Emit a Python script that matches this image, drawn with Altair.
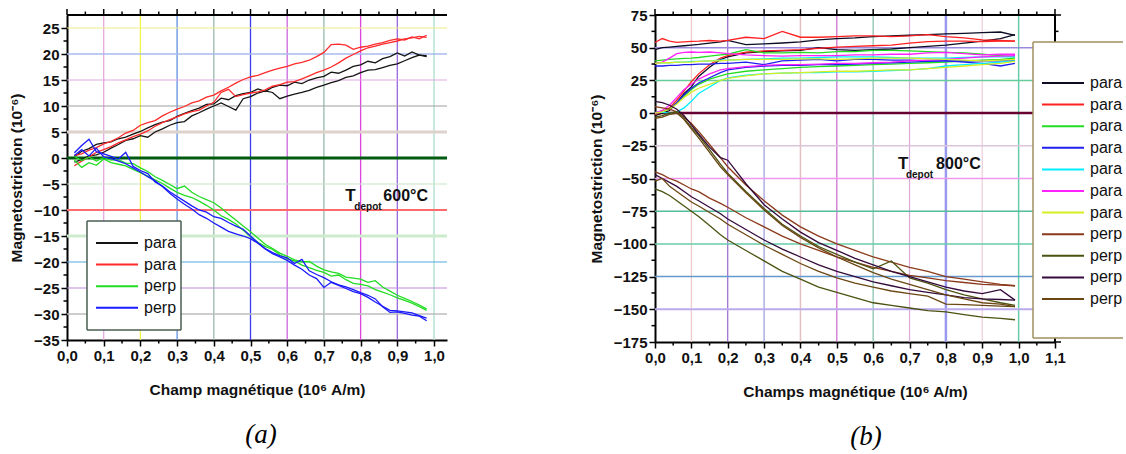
import altair as alt
import pandas as pd

FONT = "Liberation Sans"

# ---------------- Panel (a) : T_depot 600 C ----------------
LX = [0.02, 0.04, 0.06, 0.08, 0.10, 0.12, 0.14, 0.16, 0.18, 0.20,
      0.22, 0.24, 0.26, 0.28, 0.30, 0.32, 0.34, 0.36, 0.38, 0.40,
      0.42, 0.44, 0.46, 0.48, 0.50, 0.52, 0.54, 0.56, 0.58, 0.60,
      0.62, 0.64, 0.66, 0.68, 0.70, 0.72, 0.74, 0.76, 0.78, 0.80,
      0.82, 0.84, 0.86, 0.88, 0.90, 0.92, 0.94, 0.96, 0.98]

A_BLACK_1 = [0.2, 1.3, 1.8, 2.6, 2.9, 3.1, 3.7, 4.0, 4.6, 5.1,
             5.8, 6.4, 6.9, 7.2, 8.0, 8.6, 9.1, 9.6, 10.3, 10.4,
             11.5, 11.2, 12.0, 12.4, 12.6, 13.3, 12.8, 13.6, 14.0, 13.9,
             14.6, 14.3, 15.0, 15.4, 15.7, 16.5, 16.3, 16.9, 17.6, 17.9,
             18.6, 18.3, 19.1, 19.5, 20.2, 19.6, 20.4, 19.8, 19.7]
A_BLACK_2 = [-0.8, -0.3, 0.4, 0.6, 1.1, 1.9, 2.6, 3.4, 3.7, 4.3,
             4.0, 5.0, 5.6, 6.3, 6.8, 7.0, 8.1, 8.7, 9.4, 10.0,
             10.6, 9.9, 9.2, 11.4, 11.8, 12.5, 12.9, 12.6, 11.4, 11.9,
             12.3, 12.6, 13.0, 13.6, 14.0, 14.5, 14.9, 15.5, 15.8, 16.4,
             16.9, 17.0, 17.4, 17.8, 18.1, 18.7, 19.3, 19.8, 19.5]
A_RED_1 = [0.5, 0.8, 1.5, 2.0, 2.7, 3.2, 3.9, 4.8, 5.3, 6.3,
           6.8, 7.2, 8.1, 8.8, 9.4, 9.9, 10.6, 11.0, 11.7, 12.1,
           12.9, 13.6, 14.4, 15.1, 15.6, 15.9, 16.4, 16.9, 17.3, 17.6,
           18.1, 18.4, 18.8, 19.5, 20.3, 21.8, 21.9, 21.7, 20.9, 21.3,
           21.5, 21.9, 22.2, 22.6, 22.9, 22.7, 23.3, 22.9, 23.6]
A_RED_2 = [-1.5, -0.6, 0.2, 1.1, 1.6, 2.2, 2.9, 3.5, 4.1, 4.6,
           5.2, 6.1, 6.8, 7.4, 7.9, 8.5, 8.9, 9.2, 10.0, 10.7,
           12.6, 13.2, 11.8, 12.2, 12.5, 12.7, 13.1, 13.8, 14.1, 14.6,
           14.7, 15.2, 15.8, 16.4, 16.9, 17.5, 18.3, 19.2, 19.9, 20.6,
           21.2, 21.5, 21.9, 22.2, 22.5, 22.9, 23.1, 23.4, 23.2]
A_GREEN_1 = [0.3, -0.5, 0.2, -0.6, 0.1, -0.4, -0.3, -1.0, -1.1, -1.9,
             -2.6, -3.6, -4.3, -5.1, -5.9, -5.4, -6.6, -7.4, -8.0, -8.6,
             -9.6, -10.8, -11.9, -13.1, -14.2, -15.4, -16.6, -17.4, -18.3, -18.9,
             -19.6, -20.0, -19.9, -20.8, -21.5, -21.9, -22.2, -22.9, -23.1, -23.3,
             -23.9, -23.6, -24.8, -25.6, -26.4, -27.0, -27.6, -28.3, -29.0]
A_GREEN_2 = [-0.4, -1.8, -0.9, -1.4, -0.2, -0.9, -1.2, -1.5, -2.2, -2.8,
             -3.5, -4.2, -4.9, -5.8, -6.6, -7.2, -7.6, -8.3, -9.1, -10.0,
             -11.1, -11.8, -12.7, -13.9, -15.1, -16.2, -17.0, -17.6, -18.6, -19.4,
             -19.8, -20.6, -21.1, -21.6, -22.0, -22.7, -22.5, -23.4, -24.1, -24.3,
             -24.6, -25.3, -25.8, -26.3, -26.9, -27.4, -27.9, -28.6, -29.3]
A_BLUE_1 = [1.0, 2.4, 3.6, 1.2, 0.8, 0.3, -0.2, 1.1, -1.6, -2.4,
            -3.0, -4.6, -5.4, -6.5, -7.4, -8.3, -9.2, -10.0, -10.4, -11.3,
            -11.6, -12.4, -13.1, -13.7, -15.0, -16.3, -17.4, -18.2, -18.8, -19.2,
            -20.3, -19.5, -21.7, -22.4, -23.0, -23.8, -24.4, -24.8, -25.3, -25.9,
            -26.4, -27.1, -28.6, -29.7, -29.6, -29.9, -30.2, -30.4, -31.3]
A_BLUE_2 = [0.5, 1.6, 0.4, 1.9, 0.2, -0.1, -0.6, -1.1, -1.9, -2.7,
            -3.6, -4.4, -5.5, -6.8, -7.9, -8.9, -9.8, -10.9, -11.6, -12.5,
            -13.3, -14.1, -14.6, -15.0, -15.5, -16.4, -17.5, -18.4, -19.0, -19.7,
            -20.6, -21.4, -22.5, -23.2, -24.9, -23.9, -24.5, -25.1, -25.7, -26.1,
            -26.8, -27.7, -28.5, -29.3, -29.4, -29.6, -29.8, -30.3, -30.8]

A_SERIES = ["para_1", "para_2", "perp_1", "perp_2"]
A_COLORS = ["#141414", "#ff2a2a", "#22dd22", "#1a1aff"]

# grid of panel (a)
A_VGRID = [0.1, 0.2, 0.3, 0.4, 0.5, 0.6, 0.7, 0.8, 0.9, 1.0]
A_VGRID_COL = ["#e8a8e0", "#f2f24a", "#6090e0", "#99bbaa", "#3a3aee",
               "#cc66dd", "#99bbaa", "#dd44dd", "#9966dd", "#aaddcc"]
A_HGRID = [25, 20, 15, 10, 5, 0, -5, -10, -15, -20, -25, -30]
A_HGRID_COL = ["#eeee88", "#aabbee", "#ddaadd", "#a0a0a0", "#ddd2cc", "#005a10",
               "#cce2cc", "#ff6a6a", "#cdeccd", "#55aadd", "#bb88dd", "#bdbdbd"]
A_HGRID_W = [1.2, 1.5, 1.2, 1.2, 3, 3, 1.2, 2, 3, 1.2, 1.2, 1.5]

A_XMAJOR = [0.0, 0.1, 0.2, 0.3, 0.4, 0.5, 0.6, 0.7, 0.8, 0.9, 1.0]
A_XMINOR = [0.05, 0.15, 0.25, 0.35, 0.45, 0.55, 0.65, 0.75, 0.85, 0.95]
A_YMAJOR = [-35, -30, -25, -20, -15, -10, -5, 0, 5, 10, 15, 20, 25]
A_YMINOR = [-32.5, -27.5, -22.5, -17.5, -12.5, -7.5, -2.5, 2.5, 7.5, 12.5, 17.5, 22.5]

# ---------------- Panel (b) : T_depot 800 C ----------------
RX = [0.00, 0.02, 0.04, 0.06, 0.08, 0.10, 0.12, 0.15, 0.18, 0.20,
      0.25, 0.30, 0.35, 0.40, 0.45, 0.50, 0.55, 0.60, 0.65, 0.70,
      0.75, 0.80, 0.85, 0.90, 0.95, 0.99]

B_BLACK_R = [48.5, 50, 50.5, 51, 51.5, 52, 52.5, 53.5, 54.5, 55.6, 52.3, 53, 53.6, 54.5, 56, 57, 57.5, 58.5, 59, 59.5, 60, 60.5, 61, 61.5, 62, 59.5]
B_BLACK_U = [-2, 0, 2, 8, 15, 20, 28, 35, 41, 43, 46, 47, 47.5, 48, 50, 48.5, 48, 48.5, 49, 50, 51, 52, 53.5, 55, 57, 60]
B_RED_R = [54, 57, 55, 54, 54.5, 54.8, 55, 55.5, 55, 55.6, 58, 57, 62.5, 58, 58, 58.5, 59, 59, 58.5, 59, 60, 58.5, 57.5, 56, 55.5, 55]
B_RED_U = [-1, 1, 4, 10, 17, 24, 30, 37, 42, 44, 46.6, 47.5, 48, 48.5, 49.5, 50.5, 51, 51.5, 52, 53.5, 54.6, 55, 55, 54.6, 55, 55]
B_GREEN_R = [40, 40.5, 41, 41.5, 41.8, 42, 42.5, 43.5, 44.5, 45, 48.5, 46, 46, 46.5, 46, 47, 47, 48, 48, 47.5, 47, 46.5, 46, 45, 44, 43]
B_GREEN_U = [0, 1, 3, 8, 13, 18, 22, 26, 28.5, 30, 32, 33, 34, 35, 35.5, 36, 36.5, 37, 37.5, 38, 38.5, 39, 40, 40.5, 41, 42]
B_BLUE_R = [36, 36, 36.5, 36.5, 37, 37, 37.5, 37.5, 38, 38, 39, 37, 40, 40.5, 41, 40, 41, 41, 40.5, 40.5, 40, 40, 39, 38, 36, 38]
B_BLUE_U = [0, 1, 3, 8, 14, 19, 23, 27, 31, 33, 35, 36, 36.5, 36.5, 37, 37, 37.5, 38, 38.5, 39, 39.5, 40, 40, 40, 40, 40]
B_CYAN_R = [38, 38.5, 38.5, 39, 39, 39.5, 39.5, 40, 40.5, 40.5, 41, 41.5, 42, 42, 42.5, 43, 43, 43, 42.5, 42, 42, 42, 42.5, 43, 43, 43]
B_CYAN_U = [0.5, 0.5, 0, 1, 4, 9, 15, 20, 25, 27, 29, 30, 30.5, 31, 31, 31.5, 31.5, 32, 32.5, 33, 34, 36, 37, 38, 39, 40]
B_MAG_R = [38, 39, 42, 45.5, 46.5, 46.7, 46.5, 46.7, 46, 45.5, 44.5, 44, 43.5, 44, 44, 44, 44.5, 44.5, 45, 45, 46, 46.5, 45.5, 44.5, 45, 45]
B_MAG_U = [0, 2, 6, 12, 18, 22, 26, 30, 33, 34, 35.5, 36.5, 37, 37, 37.5, 38, 38, 38.5, 39, 40, 40.5, 41, 42, 43, 43.5, 44]
B_YEL_R = [38, 38.5, 38.5, 39, 39, 39, 39.5, 40, 40, 40.5, 41, 41, 41, 41.5, 41.5, 41, 41.5, 42, 42, 42, 41.5, 41, 40.5, 40, 40.5, 41]
B_YEL_U = [0, 1, 3, 7, 12, 16, 19, 22, 25, 26.5, 28.5, 30, 30.5, 31, 31.5, 32, 32, 32.5, 33, 33, 34, 35, 36, 37, 38, 39.5]

B_PERP_A1 = [5, 4, 3, 1, -3, -8, -14, -24, -34, -41, -55, -67, -78, -87, -94, -100, -105, -110, -114, -118, -121, -125, -127, -129, -131, -132]
B_PERP_A2 = [9, 8, 6, 3, -2, -9, -16, -26, -34, -36, -54, -70, -81, -91, -99, -105, -111, -116, -121, -125, -129, -133, -136, -138, -135, -143]
B_PERP_A3 = [-3, -2, 0, 1, -4, -11, -17, -28, -39, -46, -60, -73, -85, -94, -102, -108, -114, -119, -113, -126, -130, -135, -139, -142, -145, -147]
B_PERP_A4 = [-4, -3, -1, 0, -5, -12, -19, -30, -41, -47, -61, -74, -86, -95, -103, -110, -116, -122, -127, -131, -135, -139, -142, -145, -146, -148]
B_PERP_B1 = [-45, -47, -50, -52, -55, -58, -60, -65, -69, -72, -80, -87, -94, -100, -105, -110, -114, -118, -121, -124, -126, -128, -129.5, -131, -131.5, -132]
B_PERP_B2 = [-47, -50, -53, -56, -60, -64, -67, -72, -77, -81, -89, -97, -104, -110, -116, -121, -125, -129, -132, -135, -137, -139, -141, -142, -142.5, -143]
B_PERP_B3 = [-52, -50, -56, -60, -64, -68, -71, -76, -81, -85, -93, -101, -108, -115, -121, -126, -130, -133, -136, -138, -140, -146, -146.5, -147, -147.5, -148]
B_PERP_B4 = [-58, -60, -63, -67, -71, -75, -79, -86, -93, -97, -105, -113, -121, -127, -133, -137, -141, -145, -147, -149, -151, -152, -154, -156, -157, -158]

B_SERIES = ["para1", "para2", "para3", "para4", "para5", "para6", "para7",
            "perp1", "perp2", "perp3", "perp4"]
B_COLORS = ["#0c0c24", "#ff2020", "#22dd22", "#2020ee", "#00eeff", "#ff22ff",
            "#d6ee22", "#8a3a1a", "#4c5210", "#330a3a", "#6a4612"]

B_VGRID = [0.1, 0.2, 0.3, 0.4, 0.5, 0.6, 0.7, 0.8, 0.9, 1.0]
B_VGRID_COL = ["#f0c8c8", "#9966cc", "#9999dd", "#e0c0c0", "#cc66cc",
               "#99ccbb", "#ddaadd", "#9999ee", "#eeccdd", "#66ccaa"]
B_VGRID_W = [1.2, 1.2, 1.2, 1.5, 1.2, 1.5, 1.2, 2.5, 1.2, 1.5]
B_HGRID = [50, 25, 0, -25, -50, -75, -100, -125, -150]
B_HGRID_COL = ["#9988dd", "#66cc99", "#660033", "#ddc4dd", "#ee99ee",
               "#55bb99", "#66ccaa", "#6699cc", "#bbaaee"]
B_HGRID_W = [1.5, 1.5, 2.5, 1.5, 1.5, 1.5, 1.5, 1.5, 2]

B_XMAJOR = [0.0, 0.1, 0.2, 0.3, 0.4, 0.5, 0.6, 0.7, 0.8, 0.9, 1.0, 1.1]
B_XMINOR = [0.05, 0.15, 0.25, 0.35, 0.45, 0.55, 0.65, 0.75, 0.85, 0.95, 1.05]
B_YMAJOR = [-175, -150, -125, -100, -75, -50, -25, 0, 25, 50, 75]
B_YMINOR = [-162.5, -137.5, -112.5, -87.5, -62.5, -37.5, -12.5, 12.5, 37.5, 62.5]

A_NOTE = [("T", 0.758, -7.3, 17), ("depot", 0.783, -9.4, 10), ("600°C", 0.862, -7.3, 16)]
B_NOTE = [("T", 0.668, -39.0, 17), ("depot", 0.690, -47.3, 10), ("800°C", 0.773, -39.0, 16)]

YTITLE = "Magnetostriction (10⁻⁶)"

# ---------------- sizes ----------------
AW, AH = 380, 325
BW, BH = 400, 327


def rows(xs, ys, curve, grp):
    return [{"x": x, "y": y, "curve": curve, "grp": grp} for x, y in zip(xs, ys)]


a_df = pd.DataFrame(
    rows(LX, A_BLACK_1, "k1", "para_1") + rows(LX, A_BLACK_2, "k2", "para_1")
    + rows(LX, A_RED_1, "r1", "para_2") + rows(LX, A_RED_2, "r2", "para_2")
    + rows(LX, A_GREEN_1, "g1", "perp_1") + rows(LX, A_GREEN_2, "g2", "perp_1")
    + rows(LX, A_BLUE_1, "b1", "perp_2") + rows(LX, A_BLUE_2, "b2", "perp_2"))

b_list = [
    (B_BLACK_R, "para1"), (B_BLACK_U, "para1"), (B_RED_R, "para2"), (B_RED_U, "para2"),
    (B_GREEN_R, "para3"), (B_GREEN_U, "para3"), (B_BLUE_R, "para4"), (B_BLUE_U, "para4"),
    (B_CYAN_R, "para5"), (B_CYAN_U, "para5"), (B_MAG_R, "para6"), (B_MAG_U, "para6"),
    (B_YEL_R, "para7"), (B_YEL_U, "para7"),
    (B_PERP_A1, "perp1"), (B_PERP_B1, "perp1"), (B_PERP_A3, "perp2"), (B_PERP_B4, "perp2"),
    (B_PERP_A2, "perp3"), (B_PERP_B2, "perp3"), (B_PERP_A4, "perp4"), (B_PERP_B3, "perp4"),
]
b_rows = []
for i, (ys, g) in enumerate(b_list):
    b_rows += rows(RX, ys, "c%d" % i, g)
b_df = pd.DataFrame(b_rows)


def axis_x(values):
    return alt.Axis(values=values, labelExpr="replace(format(datum.value,'.1f'),'.',',')",
                    domainWidth=2, domainColor="#000", tickColor="#000", tickWidth=1.5,
                    tickSize=6, labelFont=FONT, labelFontWeight="bold", labelFontSize=15,
                    labelColor="#111", labelPadding=2, titleFont=FONT, titleFontWeight="bold",
                    titleFontSize=15.5, titleColor="#111", titlePadding=19, grid=False,
                    labelFlush=False, labelOverlap=False)


def axis_y(values):
    return alt.Axis(values=values, domainWidth=2, domainColor="#000", tickColor="#000",
                    tickWidth=1.5, tickSize=6, labelFont=FONT, labelFontWeight="bold",
                    labelFontSize=15, labelColor="#111", labelPadding=2, titleFont=FONT,
                    titleFontWeight="bold", titleFontSize=15.5, titleColor="#111",
                    titlePadding=9, grid=False, labelFlush=False, labelOverlap=False)


def one():
    return pd.DataFrame({"k": [0]})


def panel(df, xdom, ydom, W, H, xmaj, xmin, ymaj, ymin, vgrid, vcol, vw, hgrid, hcol, hw,
          series, colors, legx, legy, notes, xtitle, caption, cap_dx, box, right_axis):
    xs = alt.Scale(domain=xdom, nice=False, zero=False)
    ys = alt.Scale(domain=ydom, nice=False, zero=False)

    def X(f):
        return alt.X(f, scale=xs, axis=axis_x(xmaj), title=xtitle)

    def Y(f):
        return alt.Y(f, scale=ys, axis=axis_y(ymaj), title=YTITLE)

    vg = alt.Chart(pd.DataFrame({"v": vgrid, "c": vcol, "w": vw})).mark_rule().encode(
        x=X("v:Q"), stroke=alt.Stroke("c:N", scale=None),
        strokeWidth=alt.StrokeWidth("w:Q", scale=None))
    hg = alt.Chart(pd.DataFrame({"v": hgrid, "c": hcol, "w": hw})).mark_rule().encode(
        y=Y("v:Q"), stroke=alt.Stroke("c:N", scale=None),
        strokeWidth=alt.StrokeWidth("w:Q", scale=None))

    lines = alt.Chart(df).mark_line(strokeWidth=1.3).encode(
        x=X("x:Q"), y=Y("y:Q"),
        detail="curve:N",
        color=alt.Color("grp:N", scale=alt.Scale(domain=series, range=colors),
                        legend=alt.Legend(orient="none", legendX=legx, legendY=legy, title=None,
                                          symbolType="stroke", symbolSize=1764,
                                          symbolStrokeWidth=2, clipHeight=16, rowPadding=5.6,
                                          labelFont=FONT, labelFontSize=16, labelColor="#111",
                                          labelOffset=5, padding=0,
                                          labelExpr="substring(datum.label,0,4)")),
        order=alt.Order("x:Q"))

    ndf = pd.DataFrame({"t": [n[0] for n in notes], "x": [n[1] for n in notes],
                        "y": [n[2] for n in notes], "s": [n[3] for n in notes]})
    note = alt.Chart(ndf).mark_text(align="left", baseline="middle", font=FONT,
                                    fontWeight="bold", color="#111").encode(
        x=X("x:Q"), y=Y("y:Q"), text="t:N", size=alt.Size("s:Q", scale=None))

    # legend frame
    bx0, bx1, by0, by1, bcol, rightline = box
    frame_fill = alt.Chart(one()).mark_rect(fill="white").encode(
        x=alt.value(bx0), x2=alt.value(bx1), y=alt.value(by0), y2=alt.value(by1))
    fr = [alt.Chart(one()).mark_rule(stroke=bcol, strokeWidth=1.5).encode(
              x=alt.value(bx0), y=alt.value(by0), y2=alt.value(by1)),
          alt.Chart(one()).mark_rule(stroke=bcol, strokeWidth=1.5).encode(
              x=alt.value(bx0), x2=alt.value(bx1), y=alt.value(by0)),
          alt.Chart(one()).mark_rule(stroke=bcol, strokeWidth=1.5).encode(
              x=alt.value(bx0), x2=alt.value(bx1), y=alt.value(by1))]
    if rightline:
        fr.append(alt.Chart(one()).mark_rule(stroke=bcol, strokeWidth=1.5).encode(
            x=alt.value(bx1), y=alt.value(by0), y2=alt.value(by1)))

    # top axis, extra ticks
    top = alt.Chart(one()).mark_rule(stroke="#000", strokeWidth=2).encode(
        x=alt.value(0), x2=alt.value(W), y=alt.value(0))
    top_maj = alt.Chart(pd.DataFrame({"v": xmaj})).mark_rule(stroke="#000", strokeWidth=1.5).encode(
        x=X("v:Q"), y=alt.value(-6), y2=alt.value(0))
    top_min = alt.Chart(pd.DataFrame({"v": xmin})).mark_rule(stroke="#000", strokeWidth=1.5).encode(
        x=X("v:Q"), y=alt.value(-3.5), y2=alt.value(0))
    bot_min = alt.Chart(pd.DataFrame({"v": xmin})).mark_rule(stroke="#000", strokeWidth=1.5).encode(
        x=X("v:Q"), y=alt.value(H), y2=alt.value(H + 3.5))
    left_min = alt.Chart(pd.DataFrame({"v": ymin})).mark_rule(stroke="#000", strokeWidth=1.5).encode(
        y=Y("v:Q"), x=alt.value(-3.5), x2=alt.value(0))
    extra = [top, top_maj, top_min, bot_min, left_min]
    if right_axis:
        extra.append(alt.Chart(one()).mark_rule(stroke="#000", strokeWidth=2).encode(
            x=alt.value(W), y=alt.value(0), y2=alt.value(H)))
        extra.append(alt.Chart(pd.DataFrame({"v": ymaj})).mark_rule(stroke="#000", strokeWidth=1.5).encode(
            y=Y("v:Q"), x=alt.value(W), x2=alt.value(W + 6)))
        extra.append(alt.Chart(pd.DataFrame({"v": ymin})).mark_rule(stroke="#000", strokeWidth=1.5).encode(
            y=Y("v:Q"), x=alt.value(W), x2=alt.value(W + 3.5)))

    if right_axis:
        layers = [vg, hg, lines, note] + extra + [frame_fill] + fr
    else:
        layers = [vg, hg, lines, note, frame_fill] + fr + extra

    return alt.layer(*layers).properties(
        width=W, height=H,
        title=alt.TitleParams(caption, orient="bottom", anchor="middle", font="Liberation Serif",
                              fontSize=27, fontStyle="italic", fontWeight="normal",
                              color="#000", offset=24, dx=cap_dx))


left = panel(a_df, [0, 1.0354], [-35, 27.5], AW, AH, A_XMAJOR, A_XMINOR, A_YMAJOR, A_YMINOR,
             A_VGRID, A_VGRID_COL, [1.3] * 10, A_HGRID, A_HGRID_COL, A_HGRID_W,
             A_SERIES, A_COLORS, 28, 220, A_NOTE, "Champ magnétique (10⁶ A/m)", "(a)", 4,
             (20, 114, 206, 315, "#4a5e52", True), False)

right = panel(b_df, [0, 1.1], [-175, 75], BW, BH, B_XMAJOR, B_XMINOR, B_YMAJOR, B_YMINOR,
              B_VGRID, B_VGRID_COL, B_VGRID_W, B_HGRID, B_HGRID_COL, B_HGRID_W,
              B_SERIES, B_COLORS, 386, 60, B_NOTE, "Champs magnétique (10⁶ A/m)", "(b)", 11,
              (378, 468, 27, 323, "#a09060", False), True)

chart = alt.hconcat(left, right, spacing=140).resolve_scale(color="independent").properties(
    padding={"left": 9, "top": 8, "right": 0, "bottom": 0},
    background="white"
).configure_view(stroke=None)

chart.save("out.html", embed_options={"renderer": "svg", "actions": False})
